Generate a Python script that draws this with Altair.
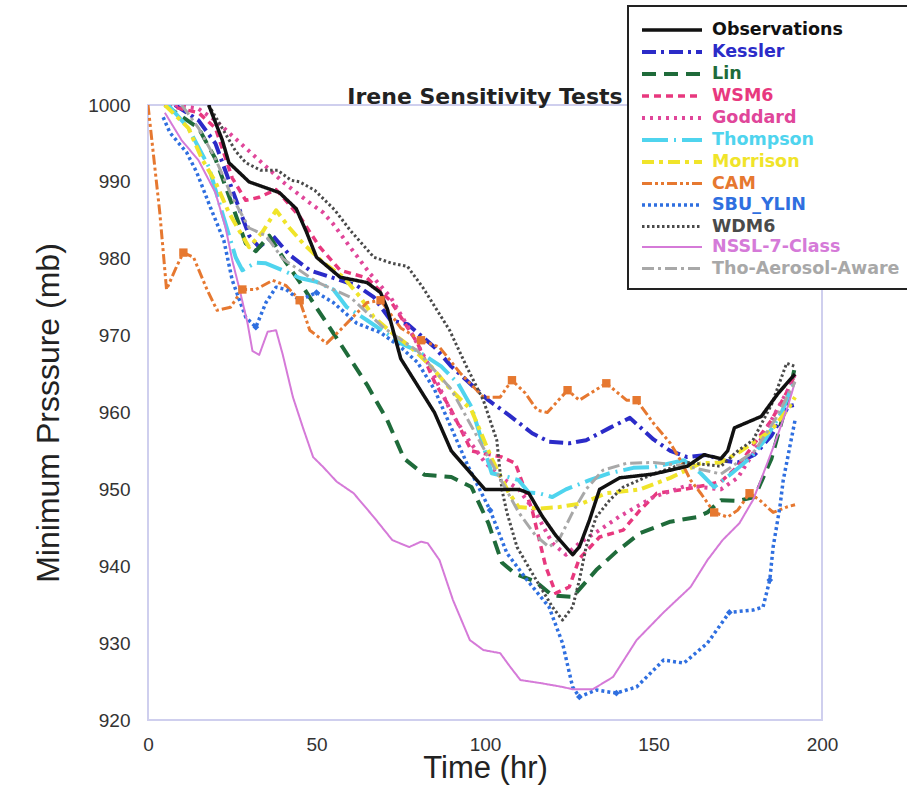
import altair as alt
import pandas as pd

# ---- data ----
SERIES = ["Observations", "Kessler", "Lin", "WSM6", "Goddard", "Thompson", "Morrison",
          "CAM", "SBU_YLIN", "WDM6", "NSSL-7-Class", "Tho-Aerosol-Aware"]
COLORS = ["#111111", "#2b2bc8", "#1f6b3a", "#e8387e", "#e0469a", "#4fd4ee", "#f0e42a",
          "#e67830", "#2f6fe0", "#4a4a4a", "#d57ad8", "#a8a8a8"]
DASHES = [[1, 0], [14, 5, 3, 5], [14, 8], [7, 5], [3, 5], [26, 6, 2, 6], [12, 5, 4, 5],
          [10, 3, 3, 3, 3, 3], [3, 3], [2.5, 2.5], [1, 0], [12, 4, 3, 4]]
WIDTHS = [3.5, 4, 4, 3.5, 4, 4, 4, 3, 3.5, 3, 2, 3]

OBS_T = [18, 22, 24, 30, 39, 44, 47, 50, 57, 65, 69, 71, 75, 80, 85, 90, 95, 100, 105, 110, 113, 117, 121, 126, 128, 131, 134, 140, 150, 160, 165, 170, 172, 174, 182, 187, 192]
OBS_P = [1000, 995.5, 992.5, 990, 988.6, 986.5, 983.5, 980.2, 977.6, 976.9, 975.6, 973.5, 967, 963.5, 960, 955, 952.5, 950, 950, 950, 949.5, 946.5, 944, 941.5, 942.5, 946, 950, 951.5, 952, 953, 954.5, 954, 955, 958, 959.5, 962.5, 965]

KES_T = [8, 15, 20, 25, 30, 33, 37, 42, 48, 55, 62, 67, 72, 77, 85, 90, 95, 101, 107, 114, 119, 125, 130, 137, 143, 150, 155, 160, 166, 170, 175, 180, 185, 190, 192]
KES_P = [1000, 998, 995, 989, 983, 981.5, 983, 980.5, 978.5, 977.5, 976.5, 975, 972, 971.5, 968.5, 966, 964, 961.6, 959.7, 957.3, 956.2, 956, 956.4, 958, 959.3, 956.5, 955, 954.2, 954.5, 953.8, 953.5, 954.5, 957, 960.8, 961]

LIN_T = [5, 15, 20, 25, 29, 32, 36, 41, 45, 49, 57, 65, 71, 76, 82, 90, 96, 101, 105, 109, 115, 120, 126, 133, 139, 146, 155, 163, 166, 170, 175, 180, 185, 190, 192]
LIN_P = [1000, 997, 993, 987, 982, 981, 983, 979.5, 977, 974.3, 969, 963.6, 959, 954, 951.9, 951.6, 950.3, 945.6, 940.5, 939, 938, 936.2, 936, 939.5, 941.9, 944.3, 945.8, 946.4, 947, 948.6, 948.5, 949, 954, 962, 966]

WSM_T = [5, 15, 20, 25, 29, 33, 38, 45, 51, 57, 65, 72, 80, 85, 90, 96, 105, 109, 114, 118, 121, 125, 128, 134, 141, 146, 151, 159, 165, 170, 175, 180, 185, 190, 192]
WSM_P = [1000, 999, 997, 990.5, 987.6, 988, 989, 985.5, 981.5, 978.5, 977.5, 974.5, 969, 964, 960.3, 955, 954.2, 953.4, 947.3, 940, 936.5, 937.3, 941, 943.8, 944.7, 947.3, 949.5, 950, 950.5, 951, 953, 956, 959, 963, 965]

GOD_T = [8, 15, 20, 25, 30, 35, 40, 47, 52, 55, 60, 66, 72, 78, 84, 90, 95, 100, 105, 110, 115, 120, 124, 128, 135, 140, 150, 160, 170, 175, 180, 185, 190, 192]
GOD_P = [1000, 999.5, 998, 996, 994, 992, 990, 987.6, 986, 984.5, 981.5, 978, 975, 970.5, 965.6, 960, 956.5, 953.5, 951.5, 950, 947, 943, 941.5, 943, 945, 946.5, 949, 950.5, 950, 951.5, 955, 959, 963, 965]

THO_T = [6, 12, 18, 22, 26, 28, 32, 35, 40, 45, 50, 55, 59, 65, 70, 75, 80, 87, 92, 96, 99, 102, 107, 110, 113, 116, 120, 124, 131, 137, 144, 150, 159, 164, 168, 173, 179, 183, 188, 191, 192]
THO_P = [1000, 997, 992, 986, 980.2, 978.5, 979.5, 979.4, 978.5, 977.5, 977, 976, 973.7, 972, 970.5, 969, 968, 966, 963.8, 960.7, 956.4, 952.1, 951.6, 951.2, 949.6, 949.5, 949, 950, 951.2, 952.1, 952.8, 952.9, 953.8, 952.1, 950.3, 952, 954.2, 956.4, 960, 963.3, 964]

MOR_T = [5, 12, 16, 20, 24, 27, 30, 34, 38, 42, 46, 52, 58, 63, 67, 72, 78, 84, 90, 96, 102, 107, 110, 116, 122, 129, 136, 146, 155, 164, 170, 176, 182, 185, 190, 192]
MOR_P = [1000, 997, 993, 990, 986, 983.7, 981.5, 983.5, 986.3, 984, 982, 979.5, 977.6, 975, 972.4, 970.5, 968.5, 966, 962.9, 960.3, 954, 949.6, 947.7, 947.5, 947.7, 948.2, 949.5, 950, 951.5, 953.4, 953.5, 955, 956.8, 957.7, 960.5, 962]

CAM_T = [0, 3.5, 5.5, 8.5, 10.5, 13.5, 17.5, 20.5, 24.5, 28, 32, 37, 41, 45, 48, 53, 57, 61, 65, 69, 75, 81, 86.5, 92.5, 99.5, 104.5, 108, 112, 115.5, 118.5, 124.5, 128, 136, 142, 145, 150, 155, 158, 161, 164, 168, 172, 175, 178.5, 181.5, 185.5, 189.5, 192]
CAM_P = [1000, 986, 976, 979, 980.8, 980.2, 976, 973.3, 973.7, 976, 976, 977.2, 976.5, 974.6, 970.7, 969, 970.7, 972.5, 974.3, 974.6, 971, 969.4, 968.5, 965.2, 962, 962, 964.2, 962.5, 960.3, 960, 962.9, 961.6, 963.8, 961.6, 961.6, 958.6, 956, 953.8, 951.2, 949.5, 947, 946.4, 947.3, 949.5, 948.6, 947, 947.7, 948]

SBU_T = [4.5, 6.5, 11.5, 14.5, 18.5, 22.5, 25, 29, 32, 35, 38, 41, 45, 50, 55, 62, 69, 75, 80, 85, 90, 95, 101.5, 106.5, 112.5, 119, 123, 126, 128, 133, 139, 145, 153, 159, 166, 172.5, 179.5, 182.5, 184.5, 185.5, 187.5, 188.5, 192]
SBU_P = [998.4, 996.4, 993.8, 991.2, 986.7, 982.4, 977.2, 972.4, 971.1, 974.3, 976.3, 976, 974.6, 975.6, 974.3, 971.6, 970.4, 968.5, 966.5, 963, 958, 953, 947.3, 941.7, 938.2, 934.7, 930, 924.3, 923, 923.9, 923.5, 924.3, 927.8, 927.4, 930, 934, 934.3, 934.7, 938.2, 942.5, 947.7, 951.2, 959]

WDM_T = [18, 22, 26, 29, 33.5, 38.5, 42.5, 45, 49.5, 55.5, 60, 67, 72.5, 77, 81.5, 84.5, 89.5, 94.5, 99.5, 103.5, 105, 106.5, 109.5, 114, 120, 123, 126, 128, 130, 133, 137, 141, 150, 160, 170, 175, 179.5, 185, 189.5, 192]
WDM_P = [1000, 997, 994, 992.5, 991.5, 991.5, 990.2, 990, 988.9, 986.3, 983.7, 980.2, 979.4, 979, 976.3, 974.2, 970.7, 966, 961.6, 956.4, 950, 947, 942.5, 939.1, 934.7, 933, 934.7, 938.2, 942.5, 946.4, 948.6, 950.3, 952, 953.5, 953, 955, 956.4, 961, 966.4, 966]

NSSL_T = [5, 10, 15, 20, 23, 25, 27, 29.5, 31, 33, 35.5, 38, 40, 43, 46, 49, 52, 56, 61, 67, 72.5, 77.5, 81, 83, 86.5, 90.5, 95.5, 99.5, 104.5, 107.5, 110.5, 116.5, 123, 126, 132, 138, 145, 153, 161, 166, 170.5, 175.5, 179.5, 181.5, 186, 190, 192]
NSSL_P = [999, 995.4, 992.8, 988.6, 984.1, 979.8, 976.3, 971.7, 968, 967.5, 970.5, 970.7, 967.5, 962, 958, 954.2, 952.9, 951, 949.5, 946.4, 943.4, 942.5, 943.2, 943, 940.8, 935.6, 930.4, 929.1, 928.7, 926.9, 925.2, 924.8, 924.3, 924, 924, 925.6, 930.4, 934, 937.3, 940.8, 943.4, 945.6, 948.6, 950.8, 956, 961, 964]

TAA_T = [10, 15, 20, 25, 30, 35, 40, 50, 60, 70, 80, 90, 95, 100, 105, 110, 115, 119, 122, 126, 130, 135, 142, 150, 160, 170, 180, 186, 192]
TAA_P = [1000, 997, 993, 988, 984, 983, 980, 977, 975, 971, 968, 963, 959, 955, 951, 947, 944, 942.5, 943.5, 947, 950, 952.5, 953.4, 953.5, 953, 952, 955, 959, 964]

# marker positions (times) for the series drawn with visible markers
CAM_MARK_T = [10.5, 28, 45, 69, 81, 108, 124.5, 136, 145, 168, 178.5]
SBU_MARK_T = [32, 50, 101.5, 128, 139, 172.5, 184.5]

X_TICKS = [0, 50, 100, 150, 200]
Y_TICKS = [920, 930, 940, 950, 960, 970, 980, 990, 1000]

TS = [OBS_T, KES_T, LIN_T, WSM_T, GOD_T, THO_T, MOR_T, CAM_T, SBU_T, WDM_T, NSSL_T, TAA_T]
PS = [OBS_P, KES_P, LIN_P, WSM_P, GOD_P, THO_P, MOR_P, CAM_P, SBU_P, WDM_P, NSSL_P, TAA_P]

# draw order: observations last (on top)
frames = []
order = list(range(1, len(SERIES))) + [0]
for k, i in enumerate(order):
    frames.append(pd.DataFrame({"model": SERIES[i], "t": TS[i], "p": PS[i], "ord": k}))
df = pd.concat(frames, ignore_index=True)

cam = pd.DataFrame({"t": CAM_T, "p": CAM_P})
cam = cam[cam["t"].isin(CAM_MARK_T)]
sbu = pd.DataFrame({"t": SBU_T, "p": SBU_P})
sbu = sbu[sbu["t"].isin(SBU_MARK_T)]

W, H = 674, 615
PAD = {"left": 148, "top": 105, "right": 907 - 148 - W, "bottom": 795 - 105 - H}

xs = alt.X("t:Q", scale=alt.Scale(domain=[0, 200], nice=False),
           axis=alt.Axis(values=X_TICKS, title="Time (hr)", labelFlush=False))
ys = alt.Y("p:Q", scale=alt.Scale(domain=[920, 1000], nice=False, zero=False),
           axis=alt.Axis(values=Y_TICKS, title="Minimum Prsssure (mb)", format="d"))

lines = alt.Chart(df).mark_line(clip=True, strokeJoin="round").encode(
    x=xs, y=ys,
    color=alt.Color("model:N", scale=alt.Scale(domain=SERIES, range=COLORS), title=None,
                    legend=alt.Legend(orient="none", legendX=480, legendY=-99,
                                      labelColor=alt.ExprRef(expr="scale('color', datum.value)"))),
    strokeDash=alt.StrokeDash("model:N", scale=alt.Scale(domain=SERIES, range=DASHES), title=None),
    strokeWidth=alt.StrokeWidth("model:N", scale=alt.Scale(type="ordinal", domain=SERIES, range=WIDTHS), title=None),
    detail="ord:O",
)

cam_pts = alt.Chart(cam).mark_square(size=70, opacity=1, clip=True).encode(
    x="t:Q", y="p:Q", color=alt.value("#e67830"))
sbu_pts = alt.Chart(sbu).mark_point(shape="diamond", size=45, filled=True, opacity=1, clip=True).encode(
    x="t:Q", y="p:Q", color=alt.value("#2f6fe0"))

chart = alt.layer(lines, cam_pts, sbu_pts).properties(
    width=W, height=H,
    autosize=alt.AutoSizeParams(type="none"),
    padding=PAD,
    title=alt.Title("Irene Sensitivity Tests", font="DejaVu Sans", fontSize=22, fontWeight="bold",
                    color="#222222", anchor="middle", baseline="alphabetic", offset=2, frame="group",
                    dy=123),
).configure_view(
    stroke="#cfcfee", strokeWidth=2,
).configure_axis(
    grid=False, ticks=False, domain=False,
    labelFont="Liberation Sans", labelFontSize=19, labelColor="#333333",
    titleFont="Liberation Sans", titleFontWeight="normal", titleColor="#222222",
).configure_axisX(
    labelPadding=15, titleFontSize=31, titlePadding=-1,
).configure_axisY(
    labelPadding=18, titleFontSize=32, titlePadding=22,
).configure_legend(
    labelFont="DejaVu Sans", labelFontSize=17.5, labelFontWeight="bold",
    symbolType="M-1,0H5", symbolSize=400, symbolStrokeWidth=3,
    padding=12, labelOffset=48, rowPadding=1,
    strokeColor="#222222", strokeWidth=2, fillColor="white", cornerRadius=0,
    labelLimit=400,
)

chart.save("out.html", embed_options={"renderer": "svg", "actions": False})
